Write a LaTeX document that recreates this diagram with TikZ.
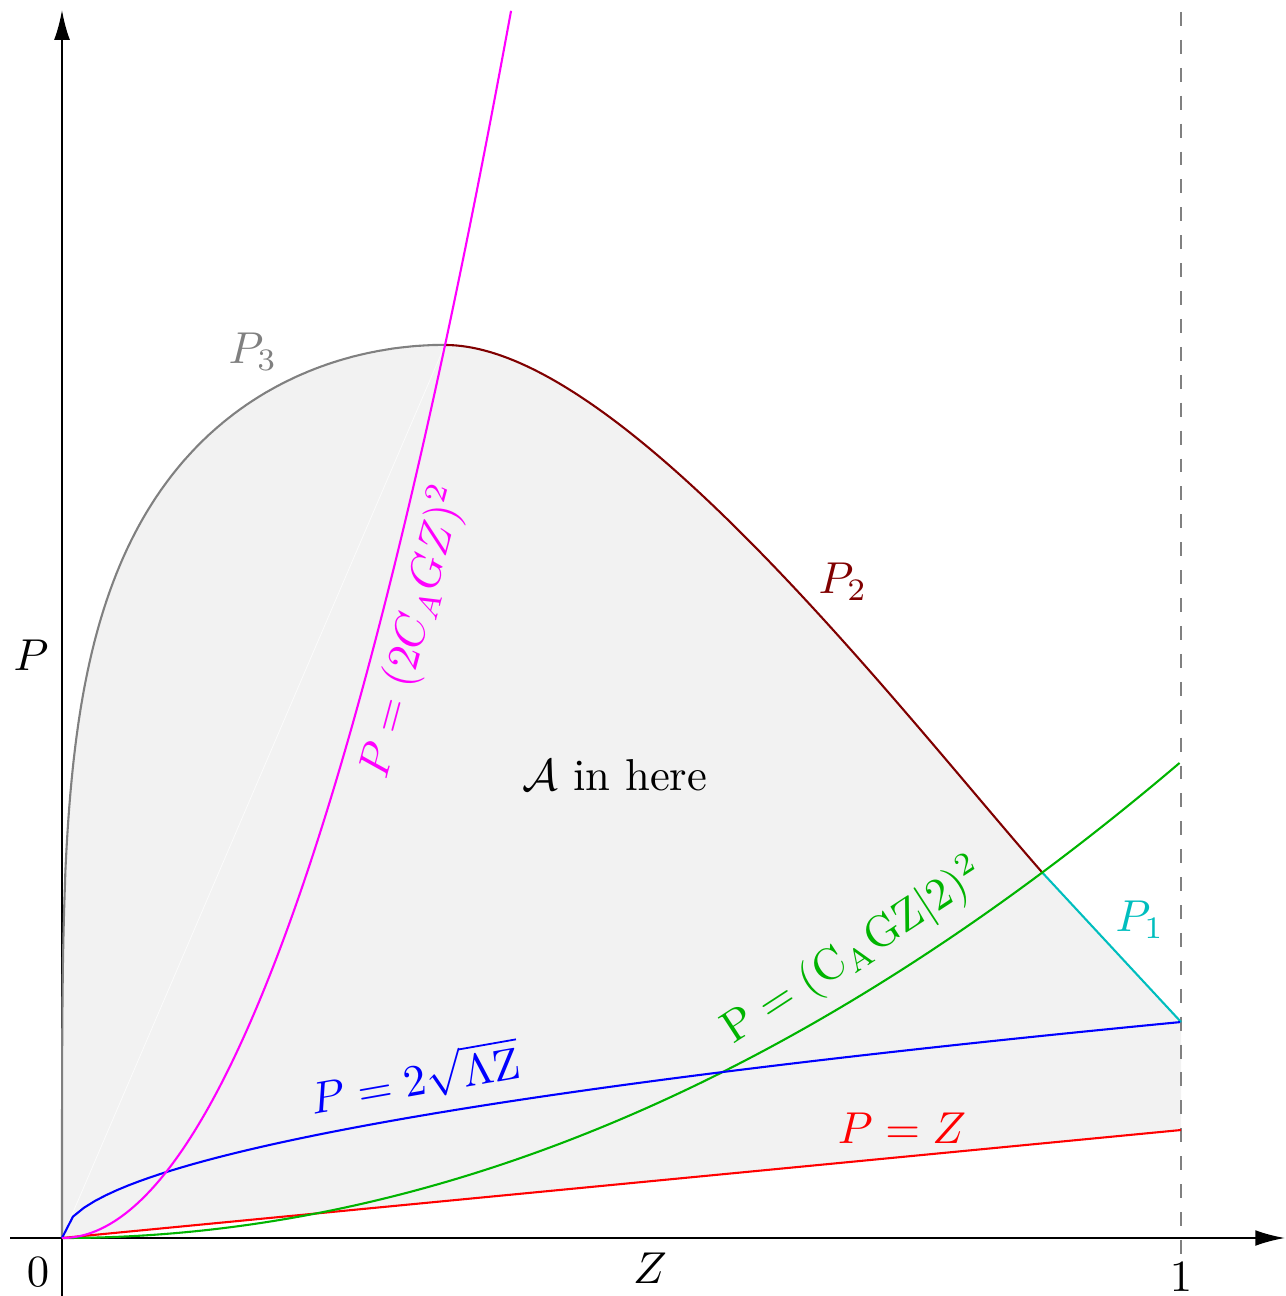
\documentclass[tikz,border=0pt]{standalone}
\usetikzlibrary{arrows.meta}
\definecolor{pone}{RGB}{0,190,190}
\definecolor{ptwo}{RGB}{128,0,0}
\definecolor{grn}{RGB}{0,180,0}
\definecolor{mag}{RGB}{255,0,255}
\begin{document}
\begin{tikzpicture}[x=0.215pt,y=-0.215pt,
  axis/.style={line width=0.45pt,-{Latex[length=6.4pt,width=3.4pt]}},
  curve/.style={line width=0.45pt},
  lbl/.style={transform shape,scale=0.96}]
\useasboundingbox (0,0) rectangle (1285,1296);
\coordinate (O) at (62,1238);
\coordinate (peak) at (445,345);
\coordinate (J) at ({62+1119*0.876},{1238-108*4.41*0.876*0.876});
\coordinate (B1) at (1181,1022);
\coordinate (R1) at (1181,1130);
\coordinate (xs) at (10,1238);
\coordinate (xe) at (1285,1238);
\coordinate (ys) at (62,1296);
\coordinate (ye) at (62,10);
\coordinate (dtop) at (1181,12);
\coordinate (dbot) at (1181,1296);
% filled region
\fill[gray!10] (O) -- plot[domain=0.02:90,samples=240] ({62+383*(1-cos(\x))},{1238-893*(sin(\x))^0.4444})
  .. controls (620,345) and (900,710) .. (J) -- (B1) -- (R1) -- cycle;
\draw[white,line width=0.15pt,opacity=0.8] (O) -- (peak);
% dashed line at Z=1
\draw[gray,dashed,line width=0.45pt] (dtop) -- (dbot);
% axes
\draw[axis] (xs) -- (xe);
\draw[axis] (ys) -- (ye);
% curves
\draw[curve,gray] (O) -- plot[domain=0.02:90,samples=240] ({62+383*(1-cos(\x))},{1238-893*(sin(\x))^0.4444});
\draw[curve,ptwo] (peak) .. controls (620,345) and (900,710) .. (J);
\draw[curve,pone] (J) -- (B1);
\draw[curve,red] (O) -- (R1);
\draw[curve,grn] plot[domain=0:1,samples=120] ({62+1119*\x},{1238-108*4.41*\x*\x});
\draw[curve,blue] plot[domain=0:1,samples=103] ({62+1119*\x},{1238-216*sqrt(\x)});
\draw[curve,mag] plot[domain=0:0.4014,samples=120] ({62+1119*\x},{1238-108*70.56*\x*\x});
% labels
\node[lbl,gray] (l3) at (253,352) {$P_3$};
\node[lbl,ptwo] (l2) at (843,582) {$P_2$};
\node[lbl,pone] (l1) at (1140,920) {$P_1$};
\node[lbl] (la) at (615,775) {$\mathcal{A}$ in here};
\node[lbl,mag,rotate=75] (lm) at (413,632) {$P=(2C_AGZ)^2$};
\node[lbl,grn,rotate=33] (lg) at (854,952) {$\mathrm{P}=(\mathrm{C}_{\mathrm{A}}\mathrm{GZ}|2)^2$};
\node[lbl,blue,rotate=10] (lb) at (415,1078) {$P=2\sqrt{\Lambda\mathrm{Z}}$};
\node[lbl,red] (lr) at (902,1128) {$P=Z$};
\node[lbl] (lP) at (31,655) {$P$};
\node[lbl] (lZ) at (650,1268) {$Z$};
\node[lbl] (l0) at (38,1272) {$0$};
\node[lbl] (l1x) at (1181,1277) {$1$};
\end{tikzpicture}
\end{document}
